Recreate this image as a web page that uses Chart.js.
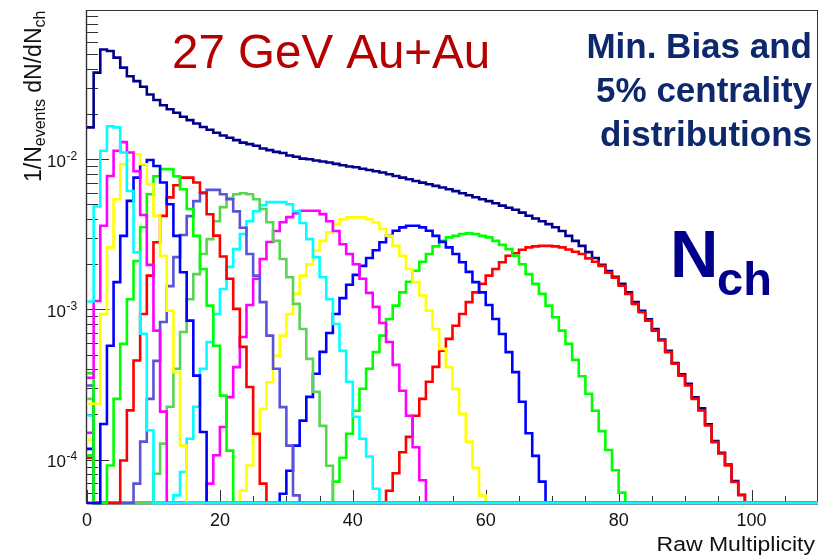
<!DOCTYPE html>
<html>
<head>
<meta charset="utf-8">
<title>27 GeV Au+Au raw multiplicity</title>
<script src="https://cdn.jsdelivr.net/npm/chart.js@4.4.1/dist/chart.umd.min.js"></script>
<style>
  html, body { margin: 0; padding: 0; background: #fff; }
  #wrap { width: 821px; height: 555px; position: relative; }
  canvas { display: block; }
</style>
</head>
<body>
<div id="wrap"><canvas id="chart" width="821" height="555"></canvas></div>
<script>
// Unit-width bins in raw multiplicity
const nBins = 110;
const xRange = [0, 110];
const yRange = [5.15e-5, 0.0985];
const xMajorTicks = [0, 20, 40, 60, 80, 100];
const yDecadeTicks = [1e-4, 1e-3, 1e-2];
const yDecadeExponents = ['-4', '-3', '-2'];

// Minimum-bias distribution, bins 0..98
const minBias = [
  0.0163, 0.0377, 0.0538, 0.0525, 0.0475, 0.0407, 0.0357, 0.0331, 0.0304, 0.0270,
  0.0248, 0.0229, 0.0215, 0.0204, 0.0192, 0.0182, 0.0173, 0.0164, 0.0157, 0.0150,
  0.0144, 0.0139, 0.0134, 0.0129, 0.0126, 0.0123, 0.0118, 0.0115, 0.0112, 0.0110,
  0.0106, 0.0104, 0.0101, 0.0100, 0.00980, 0.00966, 0.00951, 0.00931, 0.00912, 0.00894,
  0.00885, 0.00865, 0.00848, 0.00832, 0.00816, 0.00795, 0.00774, 0.00755, 0.00736, 0.00717,
  0.00699, 0.00682, 0.00665, 0.00648, 0.00632, 0.00613, 0.00594, 0.00576, 0.00559, 0.00542,
  0.00526, 0.00510, 0.00491, 0.00476, 0.00461, 0.00441, 0.00421, 0.00403, 0.00387, 0.00370,
  0.00353, 0.00333, 0.00309, 0.00286, 0.00265, 0.00241, 0.00220, 0.00198, 0.00180, 0.00165,
  0.00148, 0.00130, 0.00112, 0.00098, 0.00086, 0.00074, 0.00063, 0.00053, 0.00044, 0.00037,
  0.00032, 0.00026, 0.00022, 0.000172, 0.000133, 0.000111, 0.000093, 0.000072, 0.0000585
];

// 5% centrality classes; each array starts at the class's first filled bin
const cent0005 = [
  6.22e-5, 8.13e-5, 1.12e-4, 1.42e-4, 1.96e-4, 2.54e-4, 3.30e-4, 4.15e-4, 5.32e-4, 6.37e-4,
  7.80e-4, 9.33e-4, 1.12e-3, 1.30e-3, 1.48e-3, 1.68e-3, 1.86e-3, 2.06e-3, 2.28e-3, 2.37e-3,
  2.50e-3, 2.59e-3, 2.63e-3, 2.65e-3, 2.65e-3, 2.63e-3, 2.59e-3, 2.51e-3, 2.42e-3, 2.34e-3,
  2.19e-3, 2.08e-3, 1.95e-3, 1.76e-3, 1.63e-3, 1.44e-3, 1.27e-3, 1.09e-3, 9.58e-4, 8.43e-4,
  7.23e-4, 6.21e-4, 5.20e-4, 4.35e-4, 3.63e-4, 3.12e-4, 2.54e-4, 2.13e-4, 1.69e-4, 1.31e-4,
  1.10e-4, 9.17e-5, 7.11e-5, 5.80e-5
];
const cent0510 = [
  7.15e-5, 1.03e-4, 1.49e-4, 2.12e-4, 2.97e-4, 4.03e-4, 5.20e-4, 6.70e-4, 8.65e-4, 1.06e-3,
  1.30e-3, 1.53e-3, 1.81e-3, 2.08e-3, 2.34e-3, 2.63e-3, 2.86e-3, 3.02e-3, 3.09e-3, 3.18e-3,
  3.21e-3, 3.18e-3, 3.09e-3, 3.02e-3, 2.86e-3, 2.69e-3, 2.52e-3, 2.28e-3, 2.00e-3, 1.72e-3,
  1.48e-3, 1.27e-3, 1.06e-3, 8.87e-4, 7.23e-4, 5.90e-4, 4.62e-4, 3.59e-4, 2.75e-4, 2.12e-4,
  1.55e-4, 1.16e-4, 8.51e-5, 6.04e-5
];
const cent1015 = [
  5.94e-5, 8.45e-5, 1.24e-4, 1.82e-4, 2.62e-4, 3.73e-4, 5.22e-4, 6.98e-4, 9.33e-4, 1.19e-3,
  1.46e-3, 1.70e-3, 1.95e-3, 2.20e-3, 2.48e-3, 2.80e-3, 3.09e-3, 3.34e-3, 3.52e-3, 3.61e-3,
  3.61e-3, 3.52e-3, 3.34e-3, 3.09e-3, 2.82e-3, 2.59e-3, 2.34e-3, 2.06e-3, 1.78e-3, 1.52e-3,
  1.30e-3, 1.07e-3, 8.65e-4, 6.87e-4, 5.20e-4, 3.83e-4, 2.43e-4, 1.50e-4, 1.06e-4, 7.15e-5
];
const cent1520 = [
  6.25e-5, 9.16e-5, 1.45e-4, 2.18e-4, 3.28e-4, 4.93e-4, 6.70e-4, 9.33e-4, 1.27e-3, 1.68e-3,
  2.00e-3, 2.46e-3, 2.86e-3, 3.26e-3, 3.70e-3, 3.99e-3, 4.10e-3, 4.10e-3, 4.10e-3, 3.99e-3,
  3.79e-3, 3.43e-3, 3.09e-3, 2.65e-3, 2.28e-3, 1.86e-3, 1.52e-3, 1.24e-3, 9.82e-4, 7.41e-4,
  5.47e-4, 4.13e-4, 2.96e-4, 2.02e-4, 1.32e-4, 8.85e-5, 5.77e-5
];
const cent2025 = [
  6.93e-5, 1.07e-4, 1.65e-4, 2.61e-4, 4.13e-4, 6.56e-4, 1.07e-3, 1.60e-3, 2.17e-3, 2.81e-3,
  3.33e-3, 3.81e-3, 4.12e-3, 4.38e-3, 4.54e-3, 4.54e-3, 4.54e-3, 4.31e-3, 3.87e-3, 3.33e-3,
  2.72e-3, 2.34e-3, 2.00e-3, 1.60e-3, 1.29e-3, 1.04e-3, 8.13e-4, 6.08e-4, 4.28e-4, 2.88e-4,
  1.96e-4, 1.21e-4, 7.30e-5
];
const cent2530 = [
  5.79e-5, 8.28e-5, 1.38e-4, 2.25e-4, 4.03e-4, 6.08e-4, 9.33e-4, 1.37e-3, 1.92e-3, 2.52e-3,
  3.18e-3, 3.87e-3, 4.51e-3, 4.94e-3, 5.18e-3, 5.18e-3, 5.18e-3, 5.02e-3, 4.51e-3, 3.76e-3,
  2.94e-3, 2.23e-3, 1.64e-3, 1.17e-3, 8.01e-4, 5.30e-4, 3.30e-4, 1.93e-4, 1.38e-4, 1.05e-4,
  6.41e-5
];
const cent3035 = [
  8.07e-5, 1.28e-4, 2.25e-4, 4.03e-4, 7.08e-4, 1.17e-3, 1.72e-3, 2.34e-3, 2.94e-3, 3.87e-3,
  4.80e-3, 5.51e-3, 5.85e-3, 5.94e-3, 5.85e-3, 5.42e-3, 4.66e-3, 3.81e-3, 2.86e-3, 2.17e-3,
  1.64e-3, 1.09e-3, 7.41e-4, 4.69e-4, 2.83e-4, 1.68e-4, 9.12e-5
];
const cent3540 = [
  6.93e-5, 1.32e-4, 2.54e-4, 4.55e-4, 8.26e-4, 1.43e-3, 2.23e-3, 3.13e-3, 4.18e-3, 5.26e-3,
  5.94e-3, 6.25e-3, 6.25e-3, 5.85e-3, 5.42e-3, 4.50e-3, 3.50e-3, 2.34e-3, 1.68e-3, 1.12e-3,
  6.70e-4, 4.03e-4, 2.24e-4, 1.24e-4, 5.79e-5
];
const cent4045 = [
  9.89e-5, 2.13e-4, 4.57e-4, 9.33e-4, 1.68e-3, 2.80e-3, 4.20e-3, 5.57e-3, 6.72e-3, 7.55e-3,
  7.55e-3, 7.00e-3, 6.01e-3, 4.30e-3, 3.10e-3, 2.25e-3, 1.60e-3, 1.01e-3, 5.64e-4, 3.05e-4,
  1.49e-4, 6.93e-5
];
const cent4550 = [
  9.16e-5, 2.54e-4, 5.90e-4, 1.17e-3, 2.10e-3, 3.53e-3, 5.85e-3, 7.71e-3, 8.59e-3, 8.59e-3,
  7.71e-3, 6.32e-3, 4.66e-3, 3.09e-3, 1.86e-3, 1.06e-3, 5.74e-4, 2.67e-4, 1.15e-4
];
const cent5055 = [
  1.73e-4, 5.74e-4, 1.52e-3, 3.09e-3, 5.28e-3, 7.55e-3, 9.27e-3, 9.89e-3, 9.02e-3, 7.00e-3,
  5.02e-3, 3.09e-3, 1.77e-3, 8.43e-4, 3.63e-4, 1.53e-4
];
const cent5560 = [
  2.36e-4, 2.36e-4, 9.33e-4, 2.59e-3, 5.42e-3, 9.27e-3, 1.11e-2, 1.08e-2, 9.27e-3, 6.82e-3,
  4.20e-3, 2.28e-3, 9.82e-4, 3.83e-4, 1.24e-4
];
const cent6065 = [
  3.51e-4, 1.14e-3, 3.61e-3, 7.74e-3, 1.14e-2, 1.30e-2, 1.11e-2, 8.32e-3, 4.25e-3, 1.98e-3,
  7.23e-4, 2.09e-4
];
const cent6570 = [
  1.13e-3, 4.85e-3, 1.14e-2, 1.66e-2, 1.63e-2, 1.11e-2, 6.15e-3, 2.40e-3, 6.90e-4, 1.57e-4
];

const classNames = ['0-5%', '5-10%', '10-15%', '15-20%', '20-25%', '25-30%', '30-35%',
                    '35-40%', '40-45%', '45-50%', '50-55%', '55-60%', '60-65%', '65-70%'];
const classValues = [cent0005, cent0510, cent1015, cent1520, cent2025, cent2530, cent3035,
                     cent3540, cent4045, cent4550, cent5055, cent5560, cent6065, cent6570];
const classFirstBin = [45, 37, 29, 23, 18, 13, 10, 7, 5, 3, 2, 0, 0, 0];
// content of the Nch = 0 bin for classes whose main array starts later
const classZeroBin = [1.03e-4, 1.07e-4, 1.18e-4, 1.36e-4, 1.51e-4, 1.97e-4, 2.54e-4,
                      3.12e-4, 0, 3.77e-4, 0, 0, 0, 0];
const classColors = ['#ff0000', '#00ff00', '#0000ff', '#ffff00', '#ff00ff', '#00ffff', '#59d454',
                     '#5954d8', '#ff0000', '#00ff00', '#0000ff', '#ffff00', '#ff00ff', '#00ffff'];
const minBiasColor = '#00008b';

function binContents(values, first, zeroBin) {
  const c = new Array(nBins).fill(0);
  c[0] = zeroBin;
  values.forEach((v, k) => { c[first + k] = v; });
  return c;
}

// Step outline: one point per bin low edge, plus the upper edge of the last bin.
// Empty bins sit on the bottom of the log axis, as ROOT draws them.
function histPoints(content) {
  const pts = [];
  for (let i = 0; i < nBins; i++) {
    pts.push({ x: xRange[0] + i, y: content[i] > 0 ? content[i] : yRange[0] });
  }
  pts.push({ x: xRange[0] + nBins, y: pts[pts.length - 1].y });
  return pts;
}

const lineStyle = {
  borderWidth: 2.6,
  pointRadius: 0,
  pointHoverRadius: 0,
  stepped: true,
  fill: false,
  tension: 0,
  clip: { left: 3, top: 0, right: 0, bottom: 3 }
};

const datasets = [];
datasets.push(Object.assign({
  label: 'Min. Bias',
  data: histPoints(binContents(minBias, 0, minBias[0])),
  borderColor: minBiasColor,
  order: classNames.length + 1
}, lineStyle));
classNames.forEach((name, c) => {
  datasets.push(Object.assign({
    label: name,
    data: histPoints(binContents(classValues[c], classFirstBin[c], classZeroBin[c])),
    borderColor: classColors[c],
    order: classNames.length - c
  }, lineStyle));
});

const FONT = '"Liberation Sans", Arial, Helvetica, sans-serif';

// Frame, inward ticks and axis labels in ROOT style
const frameAxes = {
  id: 'frameAxes',
  beforeDatasetsDraw(chart) {
    const { ctx, chartArea: a, scales: { x, y } } = chart;
    ctx.save();
    ctx.strokeStyle = '#333';
    ctx.lineWidth = 1;
    ctx.strokeRect(a.left - 0.5, a.top + 0.5, a.right - a.left, a.bottom - a.top);
    ctx.lineWidth = 1.4;
    ctx.beginPath();
    ctx.moveTo(a.left - 0.5, a.top);
    ctx.lineTo(a.left - 0.5, a.bottom);
    ctx.stroke();

    // x ticks: major every 20, minor every 5
    ctx.lineWidth = 1;
    ctx.beginPath();
    for (let v = xRange[0]; v < xRange[1]; v += 5) {
      const px = Math.round(x.getPixelForValue(v)) + 0.5;
      const len = xMajorTicks.includes(v) ? 13 : 7;
      ctx.moveTo(px, a.bottom);
      ctx.lineTo(px, a.bottom - len);
    }
    // y ticks: decades long, 2..9 short
    for (let d = -5; d <= -1; d++) {
      for (let m = 1; m <= 9; m++) {
        const v = m * Math.pow(10, d);
        if (v < yRange[0] || v > yRange[1]) continue;
        const py = Math.round(y.getPixelForValue(v)) + 0.5;
        const len = m === 1 ? 22 : 11;
        ctx.moveTo(a.left, py);
        ctx.lineTo(a.left + len, py);
      }
    }
    ctx.stroke();
    ctx.restore();
  },
  afterDraw(chart) {
    const { ctx, chartArea: a, scales: { x, y } } = chart;
    ctx.save();
    ctx.fillStyle = '#111';

    // x tick labels
    ctx.font = '18px ' + FONT;
    ctx.textAlign = 'center';
    ctx.textBaseline = 'alphabetic';
    xMajorTicks.forEach(v => {
      ctx.fillText(String(v), x.getPixelForValue(v), 525.5);
    });

    // y tick labels: 10 with a raised exponent
    yDecadeTicks.forEach((v, i) => {
      const py = y.getPixelForValue(v);
      ctx.font = '17px ' + FONT;
      ctx.textAlign = 'right';
      ctx.fillText('10', 66, py + 7.5);
      ctx.font = '12px ' + FONT;
      ctx.textAlign = 'left';
      ctx.fillText(yDecadeExponents[i], 66.5, py + 0.5);
    });

    // x axis title
    ctx.save();
    ctx.translate(815, 551);
    ctx.scale(1.15, 1);
    ctx.font = '20px ' + FONT;
    ctx.textAlign = 'right';
    ctx.fillText('Raw Multiplicity', 0, 0);
    ctx.restore();

    // y axis title: 1/N_events dN/dN_ch
    ctx.save();
    ctx.translate(41, 182);
    ctx.rotate(-Math.PI / 2);
    ctx.textAlign = 'left';
    const parts = [
      ['1/N', 23, 0], ['events', 16, 4], [' dN/dN', 23, 0], ['ch', 16, 4]
    ];
    let cx = 0;
    parts.forEach(([t, size, dy]) => {
      ctx.font = size + 'px ' + FONT;
      ctx.fillText(t, cx, dy);
      cx += ctx.measureText(t).width;
    });
    ctx.restore();

    // collision system
    ctx.fillStyle = '#b40000';
    ctx.font = '47.5px ' + FONT;
    ctx.textAlign = 'left';
    ctx.fillText('27 GeV Au+Au', 172, 68);

    // description block
    ctx.fillStyle = '#0e296b';
    ctx.font = 'bold 35px ' + FONT;
    ctx.textAlign = 'right';
    ctx.fillText('Min. Bias and', 812, 57.5);
    ctx.fillText('5% centrality', 812, 101.5);
    ctx.fillText('distributions', 812, 146);

    // N_ch
    ctx.fillStyle = '#00008c';
    ctx.textAlign = 'left';
    ctx.font = 'bold 67px ' + FONT;
    ctx.fillText('N', 670, 277);
    ctx.font = 'bold 47px ' + FONT;
    ctx.fillText('ch', 717, 295);
    ctx.restore();
  }
};

new Chart(document.getElementById('chart'), {
  type: 'line',
  data: { datasets },
  options: {
    responsive: false,
    animation: false,
    devicePixelRatio: 1,
    parsing: false,
    normalized: true,
    layout: { padding: { left: 0, right: 3, top: 10, bottom: 0 } },
    plugins: { legend: { display: false }, tooltip: { enabled: false } },
    events: [],
    scales: {
      x: {
        type: 'linear', min: xRange[0], max: xRange[1],
        grid: { display: false }, border: { display: false },
        ticks: { display: false },
        afterFit(s) { s.height = 52; }
      },
      y: {
        type: 'logarithmic', min: yRange[0], max: yRange[1],
        grid: { display: false }, border: { display: false },
        ticks: { display: false },
        afterFit(s) { s.width = 87; }
      }
    }
  },
  plugins: [frameAxes]
});
</script>
</body>
</html>
